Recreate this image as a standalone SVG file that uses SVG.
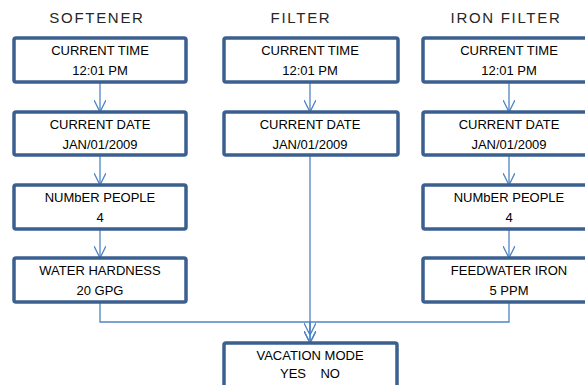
<svg xmlns="http://www.w3.org/2000/svg" width="585" height="385" viewBox="0 0 585 385">
<style>
.box{fill:#fff;stroke:#3b6090;stroke-width:3.5}
.t{font-family:"Liberation Sans",Arial,sans-serif;font-size:13px;fill:#000;text-anchor:middle}
.h{font-family:"Liberation Sans",Arial,sans-serif;font-size:15px;fill:#262626;text-anchor:middle;letter-spacing:1.7px}
.c{fill:none;stroke:#4f84c4;stroke-width:1.3}
</style>
<defs>
<marker id="a" viewBox="0 0 12 12" refX="12" refY="6" markerWidth="12" markerHeight="12" markerUnits="userSpaceOnUse" orient="auto">
<path d="M0,0 L12,6 L0,12" fill="none" stroke="#4f84c4" stroke-width="1.3"/>
</marker>
</defs>
<rect width="585" height="385" fill="#fff"/>
<text class="h" x="97" y="23">SOFTENER</text>
<text class="h" x="301" y="23">FILTER</text>
<text class="h" x="506" y="23">IRON FILTER</text>
<g id="connectors">
<path class="c" d="M100,82 V112" marker-end="url(#a)"/>
<path class="c" d="M100,155 V185" marker-end="url(#a)"/>
<path class="c" d="M100,229 V258" marker-end="url(#a)"/>
<path class="c" d="M100,302 V322 H310 V343" marker-end="url(#a)"/>
<path class="c" d="M310,82 V112" marker-end="url(#a)"/>
<path class="c" d="M310,155 V335" marker-end="url(#a)"/>
<path class="c" d="M509,82 V112" marker-end="url(#a)"/>
<path class="c" d="M509,155 V185" marker-end="url(#a)"/>
<path class="c" d="M509,229 V258" marker-end="url(#a)"/>
<path class="c" d="M509,302 V322 H310 V343" marker-end="url(#a)"/>
</g>
<g id="s1"><rect class="box" x="14" y="38" width="172" height="44" rx="2"/><text class="t" x="100" y="55">CURRENT TIME</text><text class="t" x="100" y="75">12:01 PM</text></g>
<g id="s2"><rect class="box" x="14" y="112" width="172" height="43" rx="2"/><text class="t" x="100" y="129">CURRENT DATE</text><text class="t" x="100" y="149">JAN/01/2009</text></g>
<g id="s3"><rect class="box" x="14" y="185" width="172" height="44" rx="2"/><text class="t" x="100" y="202">NUMbER PEOPLE</text><text class="t" x="100" y="222">4</text></g>
<g id="s4"><rect class="box" x="14" y="258" width="172" height="44" rx="2"/><text class="t" x="100" y="275">WATER HARDNESS</text><text class="t" x="100" y="295">20 GPG</text></g>
<g id="f1"><rect class="box" x="224" y="38" width="174" height="44" rx="2"/><text class="t" x="310" y="55">CURRENT TIME</text><text class="t" x="310" y="75">12:01 PM</text></g>
<g id="f2"><rect class="box" x="224" y="112" width="174" height="43" rx="2"/><text class="t" x="310" y="129">CURRENT DATE</text><text class="t" x="310" y="149">JAN/01/2009</text></g>
<g id="i1"><rect class="box" x="423" y="38" width="172" height="44" rx="2"/><text class="t" x="509" y="55">CURRENT TIME</text><text class="t" x="509" y="75">12:01 PM</text></g>
<g id="i2"><rect class="box" x="423" y="112" width="172" height="43" rx="2"/><text class="t" x="509" y="129">CURRENT DATE</text><text class="t" x="509" y="149">JAN/01/2009</text></g>
<g id="i3"><rect class="box" x="423" y="185" width="172" height="44" rx="2"/><text class="t" x="509" y="202">NUMbER PEOPLE</text><text class="t" x="509" y="222">4</text></g>
<g id="i4"><rect class="box" x="423" y="258" width="172" height="44" rx="2"/><text class="t" x="509" y="275">FEEDWATER IRON</text><text class="t" x="509" y="295">5 PPM</text></g>
<g id="v"><rect class="box" x="224" y="343" width="173" height="52" rx="2"/><text class="t" x="310" y="360">VACATION MODE</text><text class="t" x="310" y="378" xml:space="preserve">YES    NO</text></g>
</svg>
